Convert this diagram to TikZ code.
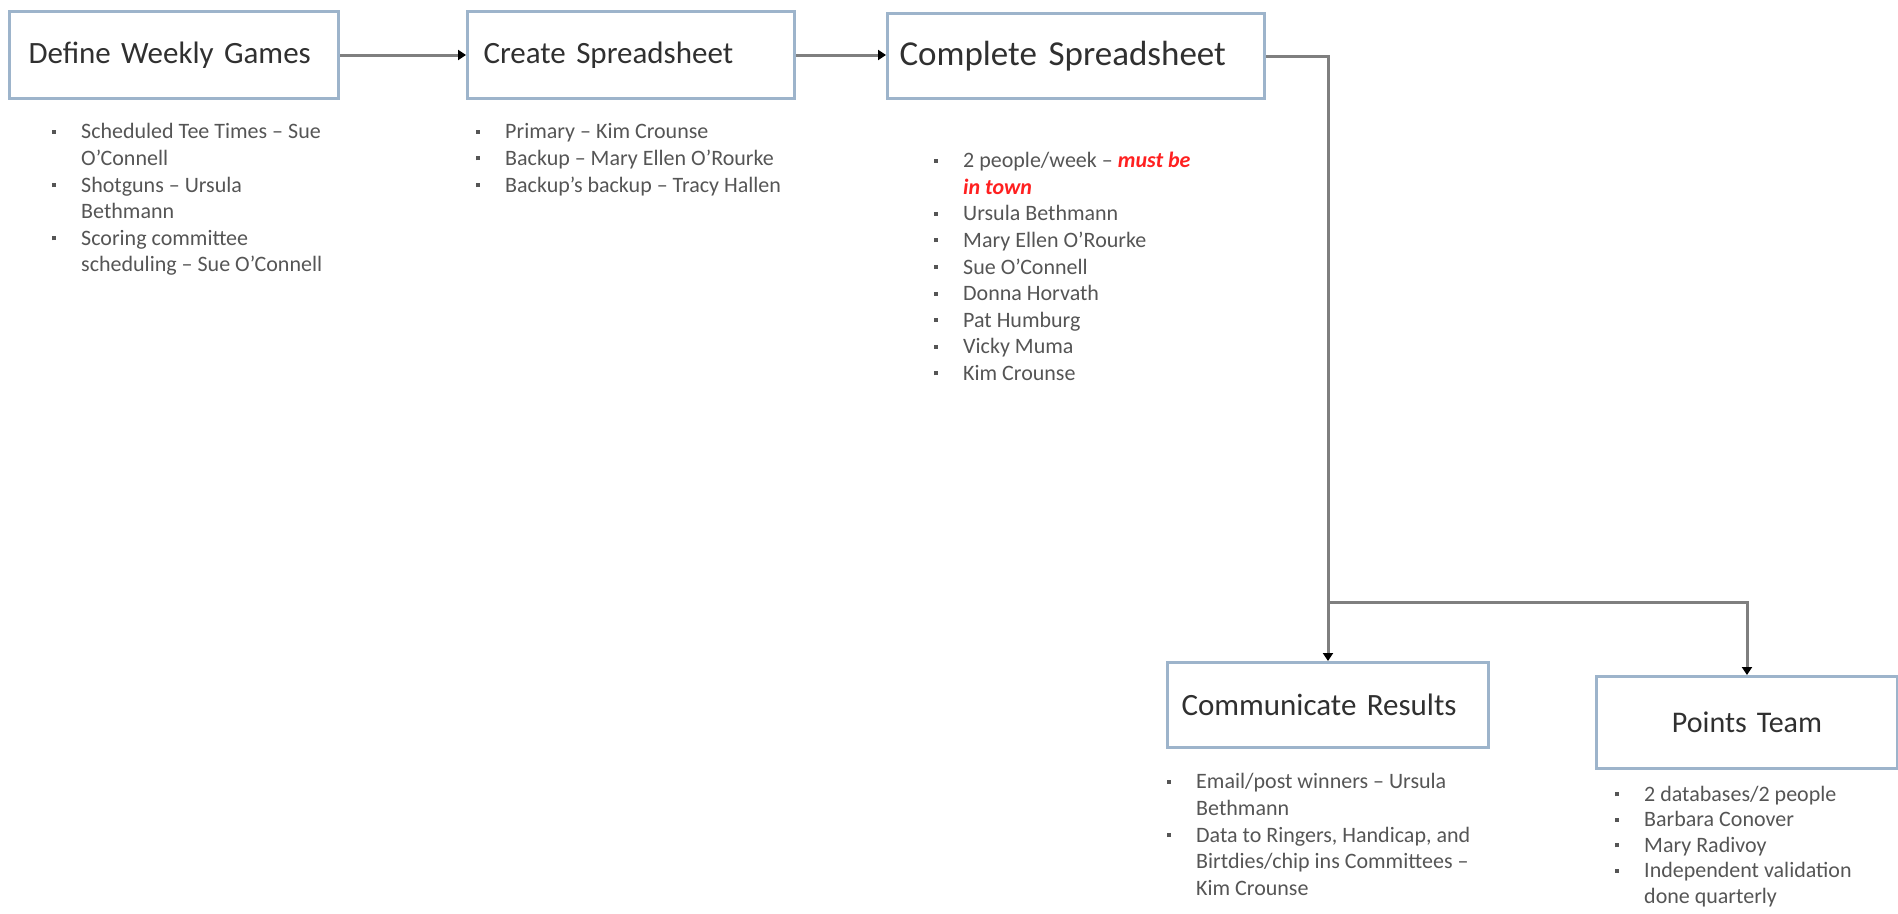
\documentclass[tikz,border=0pt]{standalone}
\usepackage{fontspec}
\setmainfont{Carlito}
\usetikzlibrary{arrows.meta}
\definecolor{boxline}{HTML}{9DB4CB}
\definecolor{connline}{HTML}{7F7F7F}
\definecolor{bodytext}{HTML}{555555}
\definecolor{titletext}{HTML}{303030}
\definecolor{alertred}{HTML}{FF2020}
\newcommand{\bx}{\makebox[29pt][l]{\raisebox{5pt}{\rule{4pt}{4pt}}}}
\newcommand{\cx}{\hspace*{29pt}}
\newcommand{\alerttext}[1]{{\color{alertred}\bfseries\itshape #1}}
\begin{document}
\begin{tikzpicture}[x=1pt,y=-1pt,
  procbox/.style={draw=boxline, line width=3pt, anchor=north west, inner ysep=0pt, align=left, text=titletext},
  conn/.style={draw=connline, line width=3pt, -{Triangle[length=8pt,width=10pt,color=black]}},
  notes/.style={anchor=north west, inner sep=0pt, align=left, text=bodytext, font=\fontsize{22}{26.6}\selectfont}]
\useasboundingbox (0,0) rectangle (1898,913);
% process boxes
\node[procbox, inner xsep=19pt, text width=291pt, minimum height=87pt, font=\fontsize{31}{36}\selectfont] (define) at (8,10) {Define Weekly Games};
\node[procbox, inner xsep=16pt, text width=295pt, minimum height=87pt, font=\fontsize{31}{36}\selectfont] (create) at (466,10) {Create Spreadsheet};
\node[procbox, inner xsep=12pt, text width=353pt, minimum height=85pt, font=\fontsize{35}{40}\selectfont] (complete) at (886,12) {Complete Spreadsheet};
\node[procbox, inner xsep=14pt, text width=293pt, minimum height=85pt, font=\fontsize{31}{36}\selectfont] (communicate) at (1166,661) {Communicate Results};
\node[procbox, inner xsep=0pt, text width=301pt, align=center, minimum height=92pt, font=\fontsize{30}{35}\selectfont] (points) at (1595,675) {Points Team};
% notes
\node[notes] (n1) at (52,123.5) {\bx Scheduled Tee Times – Sue\\ \cx O’Connell\\ \bx Shotguns – Ursula\\ \cx Bethmann\\ \bx Scoring committee\\ \cx scheduling – Sue O’Connell};
\node[notes] (n2) at (476,123.5) {\bx Primary – Kim Crounse\\ \bx Backup – Mary Ellen O’Rourke\\ \bx Backup’s backup – Tracy Hallen};
\node[notes] (n3) at (934,152) {\bx 2 people/week – \alerttext{must be}\\ \cx\alerttext{in town}\\ \bx Ursula Bethmann\\ \bx Mary Ellen O’Rourke\\ \bx Sue O’Connell\\ \bx Donna Horvath\\ \bx Pat Humburg\\ \bx Vicky Muma\\ \bx Kim Crounse};
\node[notes] (n4) at (1167,773.5) {\bx Email/post winners – Ursula\\ \cx Bethmann\\ \bx Data to Ringers, Handicap, and\\ \cx Birtdies/chip ins Committees –\\ \cx Kim Crounse};
\node[notes, font=\fontsize{22}{25.4}\selectfont] (n5) at (1615,786) {\bx 2 databases/2 people\\ \bx Barbara Conover\\ \bx Mary Radivoy\\ \bx Independent validation\\ \cx done quarterly};
% connectors
\coordinate (split) at (1327,602);
\draw[conn] (define.east) -- (create.west);
\draw[conn] (create.east) -- (create.east -| complete.west);
\draw[conn] (complete.east) -| (communicate.north);
\draw[conn] (split) -| (points.north);
\end{tikzpicture}
\end{document}
